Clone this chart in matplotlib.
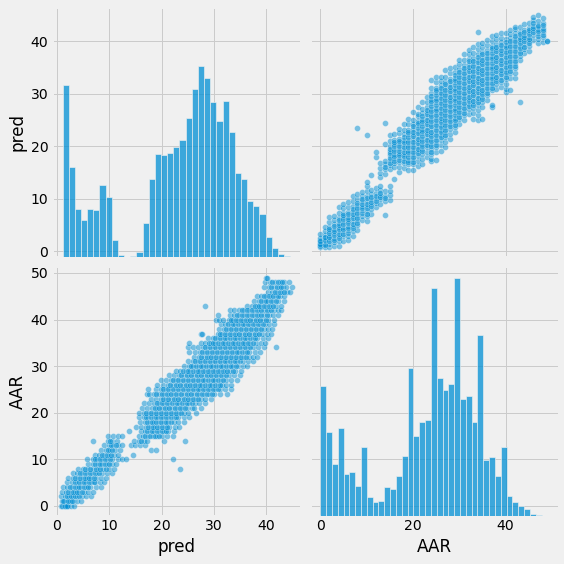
import numpy as np
import matplotlib
matplotlib.use("Agg")
import matplotlib.pyplot as plt

plt.style.use("fivethirtyeight")

# diagonal histograms (bar heights)
pred_range = (1.08, 44.6)
pred_counts = [513, 267, 142, 109, 142, 139, 214, 177, 49, 6, 0, 3, 15,
               100, 232, 307, 304, 310, 327, 348, 415, 502, 570, 534, 462,
               405, 465, 372, 250, 231, 166, 150, 127, 58, 25, 9, 3]
aar_range = (0, 49)
aar_counts = [388, 250, 154, 264, 124, 130, 90, 207, 57, 42, 46, 88, 82,
              118, 180, 442, 238, 280, 288, 681, 412, 376, 394, 711, 349,
              358, 280, 540, 166, 175, 118, 207, 60, 43, 31, 22, 7, 2, 1]

# scatter: pred values for every integer AAR (index = AAR)
aar_levels = list(range(50))
pred_rows = [
    [0.8, 1.3, 1.7, 2.2, 2.6, 3.3],
    [0.9, 1.4, 1.9, 2.5, 3.1, 3.8, 4.6],
    [0.8, 1.5, 2.3, 3.0, 3.9, 4.7, 5.6, 6.5],
    [1.0, 1.8, 2.6, 3.5, 4.3, 5.2, 6.0, 6.8],
    [1.1, 2.0, 2.9, 3.8, 4.6, 5.5, 6.4, 7.4, 8.4],
    [2.0, 2.9, 3.8, 4.7, 5.6, 6.5, 7.3, 8.2, 9.0],
    [2.1, 3.0, 4.0, 4.9, 5.8, 6.6, 7.5, 8.5, 9.4],
    [3.0, 3.9, 4.8, 5.8, 6.7, 7.7, 8.6, 9.6, 10.6],
    [4.0, 5.0, 5.9, 6.9, 7.8, 8.8, 9.9, 11.0, 23.5],
    [5.9, 6.8, 7.8, 8.7, 9.6, 10.5, 11.3],
    [5.8, 6.8, 7.7, 8.7, 9.6, 10.5, 11.6, 12.5, 13.2, 22.1],
    [7.2, 8.1, 9.0, 10.0, 10.9, 11.7, 14.6],
    [8.4, 9.3, 10.2, 11.1, 12.0, 18.0, 18.9],
    [9.0, 9.9, 10.8, 11.7, 12.5, 14.2, 15.0, 15.9, 16.8],
    [6.9, 9.7, 10.6, 11.5, 14.8, 15.7, 16.6, 17.2, 20.4, 24.5],
    [9.8, 10.7, 11.6, 12.4, 15.7, 16.5, 17.4, 18.3, 19.2, 20.1, 21.0, 22.2],
    [13.8, 16.0, 16.9, 17.8, 18.6, 19.5, 20.4, 21.3, 22.4],
    [15.2, 16.1, 17.0, 17.9, 18.8, 19.7, 20.6, 21.5, 22.5, 23.3],
    [15.9, 16.8, 17.7, 18.6, 19.5, 20.4, 21.3, 22.3, 23.2, 24.2],
    [15.6, 16.6, 17.5, 18.5, 19.4, 20.3, 21.3, 22.3, 23.2, 24.2, 25.2],
    [15.6, 16.6, 17.6, 18.5, 19.5, 20.4, 21.4, 22.4, 23.3, 24.3, 25.1, 26.5],
    [16.3, 17.3, 18.2, 19.2, 20.1, 21.1, 22.0, 23.0, 24.0, 24.9, 25.8, 26.2, 27.5],
    [16.6, 17.6, 18.6, 19.6, 20.5, 21.5, 22.5, 23.4, 24.4, 25.3, 26.3, 27.2, 28.4],
    [17.9, 18.9, 19.9, 20.8, 21.8, 22.8, 23.7, 24.7, 25.6, 26.6, 27.5, 28.4, 29.4],
    [17.2, 17.6, 18.5, 19.5, 20.5, 21.4, 22.4, 23.3, 24.3, 25.3, 26.2, 27.2,
     28.2, 29.1, 30.1, 31.2, 32.6],
    [17.5, 19.0, 19.9, 20.8, 21.8, 22.7, 23.7, 24.6, 25.6, 26.5, 27.4, 28.4,
     29.3, 30.3, 31.2, 32.2, 33.2],
    [19.1, 20.3, 21.2, 22.2, 23.1, 24.1, 25.0, 26.0, 26.9, 27.8, 28.8, 29.7,
     30.7, 31.6, 32.4, 33.2],
    [19.8, 20.8, 21.8, 22.7, 23.7, 24.6, 25.6, 26.5, 27.5, 28.4, 29.4, 30.3,
     31.3, 32.3, 33.3, 34.5],
    [21.4, 22.4, 23.4, 24.3, 25.3, 26.2, 27.2, 28.1, 29.1, 30.0, 31.0, 31.9,
     32.9, 33.9, 35.0],
    [22.7, 23.6, 24.6, 25.5, 26.5, 27.4, 28.4, 29.3, 30.3, 31.2, 32.2, 33.1,
     34.1, 35.2],
    [24.2, 25.2, 26.1, 27.1, 28.0, 29.0, 29.9, 30.9, 31.8, 32.8, 33.7, 34.7,
     35.6, 36.4],
    [25.0, 26.0, 26.9, 27.9, 28.8, 29.8, 30.7, 31.7, 32.6, 33.6, 34.5, 35.5,
     36.5, 37.5],
    [26.2, 27.2, 28.1, 29.1, 30.0, 31.0, 31.9, 32.9, 33.8, 34.8, 35.7, 36.7,
     37.5, 38.3],
    [25.3, 26.4, 27.3, 28.3, 29.2, 30.2, 31.1, 32.1, 33.0, 34.0, 34.9, 35.9,
     36.8, 37.8, 38.9],
    [25.0, 26.0, 27.0, 27.9, 28.9, 29.8, 30.8, 31.7, 32.7, 33.6, 34.6, 35.5,
     36.5, 37.5, 38.5, 39.5, 41.8],
    [25.2, 27.5, 28.4, 29.4, 30.3, 31.3, 32.2, 33.2, 34.1, 35.1, 36.0, 37.0,
     38.0, 39.0, 39.7],
    [28.8, 29.8, 30.7, 31.7, 32.6, 33.6, 34.5, 35.5, 36.4, 37.4, 38.3, 39.3,
     40.3],
    [27.5, 27.8, 30.7, 31.6, 32.6, 33.5, 34.5, 35.4, 36.4, 37.3, 38.3, 39.2,
     40.1, 41.0],
    [31.0, 31.9, 32.9, 33.8, 34.8, 35.7, 36.7, 37.6, 38.6, 39.5, 40.4, 41.2],
    [31.3, 32.2, 33.2, 34.1, 35.1, 36.0, 37.0, 37.9, 38.9, 39.8, 40.6, 41.5],
    [30.4, 30.9, 31.8, 32.8, 33.7, 34.7, 35.6, 36.6, 37.5, 38.5, 39.4, 40.4,
     41.5],
    [30.8, 33.0, 33.9, 34.9, 35.8, 36.8, 37.7, 38.7, 39.6, 40.6, 41.4, 42.2],
    [33.0, 33.9, 34.9, 35.8, 36.8, 37.7, 38.7, 39.6, 40.6, 41.5, 42.3, 42.8],
    [28.4, 36.4, 37.3, 38.2, 39.1, 40.0, 40.9, 41.8, 42.8],
    [37.7, 38.6, 39.5, 40.4, 41.3, 42.2, 43.4],
    [38.2, 39.1, 40.0, 40.9, 41.8, 42.6, 43.5],
    [40.3, 41.2, 42.1, 43.0, 44.0, 44.6],
    [39.6, 40.5, 41.5, 42.4, 43.2, 43.8, 45.0],
    [39.8, 40.8, 41.7, 42.6, 43.5, 44.4],
    [40.0, 40.1],
]

# second layer of points in the dense core of each AAR row
pred_rows_core = [
    [1.0, 1.5, 2.0],
    [1.2, 2.2, 2.8],
    [1.9, 2.7, 3.5, 4.3],
    [2.2, 3.1, 3.9, 4.8],
    [2.5, 3.4, 4.2, 5.1, 6.0],
    [3.4, 4.3, 5.2, 6.1, 7.0],
    [3.5, 4.5, 5.4, 6.2, 7.1],
    [4.4, 5.3, 6.3, 7.2, 8.1],
    [5.4, 6.4, 7.4, 8.3, 9.3],
    [7.3, 8.2, 9.1, 10.0],
    [7.2, 8.2, 9.1, 10.1],
    [8.6, 9.5, 10.4],
    [9.7, 10.6],
    [10.3, 11.2],
    [10.1, 16.1],
    [16.9, 17.8, 18.7, 19.6],
    [17.3, 18.2, 19.1, 20.0, 20.9],
    [17.4, 18.3, 19.2, 20.1, 21.0],
    [17.2, 18.1, 19.0, 19.9, 20.8, 21.8],
    [17.0, 18.0, 18.9, 19.8, 20.8, 21.8, 22.7],
    [17.1, 18.0, 19.0, 19.9, 20.9, 21.9, 22.8, 23.8],
    [18.7, 19.6, 20.6, 21.5, 22.5, 23.5, 24.4],
    [19.1, 20.0, 21.0, 22.0, 22.9, 23.9, 24.8, 25.8],
    [20.3, 21.3, 22.3, 23.2, 24.2, 25.1, 26.1, 27.0],
    [19.0, 20.0, 21.0, 21.9, 22.8, 23.8, 24.8, 25.7, 26.7, 27.7, 28.6, 29.6],
    [20.3, 21.3, 22.2, 23.2, 24.1, 25.1, 26.0, 27.0, 27.9, 28.9, 29.8, 30.8],
    [21.7, 22.7, 23.6, 24.6, 25.5, 26.4, 27.3, 28.3, 29.2, 30.2, 31.1],
    [22.2, 23.2, 24.1, 25.1, 26.0, 27.0, 27.9, 28.9, 29.8, 30.8, 31.8],
    [23.8, 24.8, 25.7, 26.7, 27.6, 28.6, 29.5, 30.5, 31.4, 32.4],
    [24.1, 25.0, 26.0, 26.9, 27.9, 28.8, 29.8, 30.7, 31.7, 32.6, 33.6],
    [25.6, 26.6, 27.5, 28.5, 29.4, 30.4, 31.3, 32.3, 33.2, 34.2],
    [26.4, 27.4, 28.3, 29.3, 30.2, 31.2, 32.1, 33.1, 34.0, 35.0],
    [27.6, 28.6, 29.5, 30.5, 31.4, 32.4, 33.3, 34.3, 35.2, 36.2],
    [27.8, 28.7, 29.7, 30.6, 31.6, 32.5, 33.5, 34.4, 35.4, 36.3],
    [28.4, 29.3, 30.3, 31.2, 32.2, 33.1, 34.1, 35.0, 36.0, 37.0],
    [29.0, 29.9, 30.8, 31.8, 32.7, 33.7, 34.6, 35.6, 36.5, 37.5],
    [30.2, 31.2, 32.1, 33.1, 34.0, 35.0, 35.9, 36.9, 37.8],
    [31.1, 32.1, 33.0, 34.0, 34.9, 35.9, 36.8, 37.8, 38.7],
    [32.4, 33.3, 34.3, 35.2, 36.2, 37.1, 38.1, 39.0],
    [32.7, 33.7, 34.6, 35.6, 36.5, 37.5, 38.4, 39.3],
    [33.2, 34.2, 35.1, 36.1, 37.0, 38.0, 38.9, 39.9],
    [34.4, 35.3, 36.3, 37.2, 38.2, 39.1, 40.1],
    [35.3, 36.3, 37.2, 38.2, 39.1, 40.1, 41.0],
    [37.8, 38.7, 39.6, 40.5, 41.4],
    [39.0, 40.0, 40.9, 41.8],
    [39.6, 40.5, 41.4, 42.2],
    [41.7, 42.6, 43.5],
    [41.0, 42.0, 42.9],
    [41.2, 42.2, 43.1],
    [],
]

aar_pts = np.concatenate([[a] * len(r) for a, r in zip(aar_levels, pred_rows)]
                         + [[a] * len(r) for a, r in zip(aar_levels, pred_rows_core)])
pred_pts = np.concatenate(pred_rows + [r for r in pred_rows_core if r])

blue = "#008fd5"
fig = plt.figure(figsize=(564 / 72, 564 / 72), dpi=72, facecolor="#f0f0f0")

lefts = [51.7 / 564, 310 / 564]
bottoms = [1 - 256.7 / 564, 1 - 516 / 564]
w, h = 249 / 564, 250 / 564

axes = [[None, None], [None, None]]
for i in range(2):
    for j in range(2):
        axes[i][j] = fig.add_axes([lefts[j], bottoms[i], w, h])

pred_lim = (-1.0, 46.6)
aar_lim = (-2.2, 51.5)

# off-diagonal scatters
axes[0][1].scatter(aar_pts, pred_pts, s=36, color=blue, alpha=0.5,
                   edgecolor="w", linewidths=0.5, zorder=3)
axes[1][0].scatter(pred_pts, aar_pts, s=36, color=blue, alpha=0.5,
                   edgecolor="w", linewidths=0.5, zorder=3)

# diagonal histograms on twin axes
hist_top = max(max(pred_counts), max(aar_counts)) * 1.05
for ax, rng, counts in [(axes[0][0], pred_range, pred_counts),
                        (axes[1][1], aar_range, aar_counts)]:
    dax = ax.twinx()
    edges = np.linspace(rng[0], rng[1], len(counts) + 1)
    dax.bar(edges[:-1], counts, width=np.diff(edges), align="edge",
            color=blue, alpha=0.75, edgecolor="#f0f0f0", linewidth=0.8)
    dax.set_ylim(0, hist_top)
    dax.set_axis_off()

for i, ylim in enumerate([pred_lim, aar_lim]):
    for j, xlim in enumerate([pred_lim, aar_lim]):
        ax = axes[i][j]
        ax.set_xlim(xlim)
        ax.set_ylim(ylim)
        ax.tick_params(labelsize=14)
        if j == 1:
            ax.tick_params(labelleft=False)
        if i == 0:
            ax.tick_params(labelbottom=False)

axes[0][0].set_xticks([0, 10, 20, 30, 40])
axes[0][0].set_yticks([0, 10, 20, 30, 40])
axes[0][1].set_xticks([0, 20, 40])
axes[0][1].set_yticks([0, 10, 20, 30, 40])
axes[1][0].set_xticks([0, 10, 20, 30, 40])
axes[1][0].set_yticks([0, 10, 20, 30, 40, 50])
axes[1][1].set_xticks([0, 20, 40])
axes[1][1].set_yticks([0, 10, 20, 30, 40, 50])

axes[0][0].set_ylabel("pred")
axes[1][0].set_ylabel("AAR")
axes[1][0].set_xlabel("pred")
axes[1][1].set_xlabel("AAR")

fig.savefig("out.png", dpi=72, facecolor="#f0f0f0")
